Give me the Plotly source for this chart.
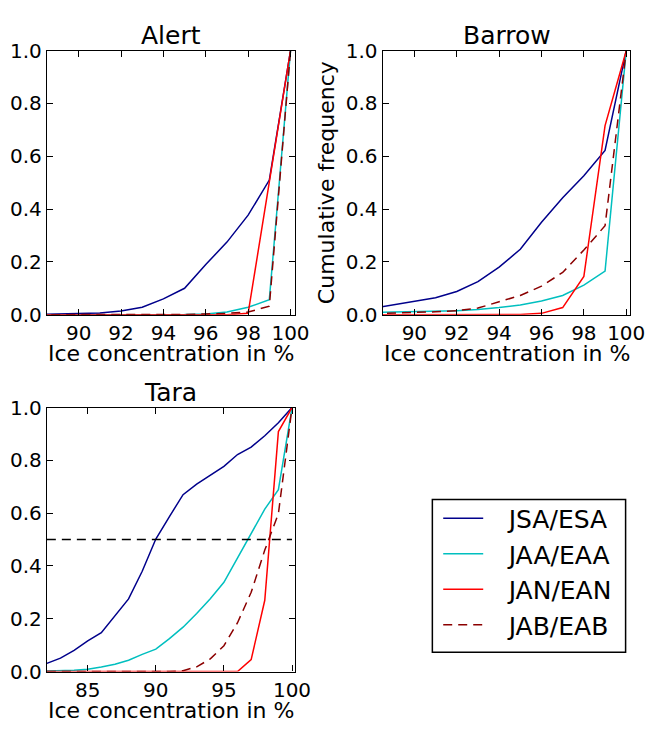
import plotly.graph_objects as go

# Ice concentration bins (%)
x_top = [88, 89, 90, 91, 92, 93, 94, 95, 96, 97, 98, 99, 100]
x_tara = [82, 83, 84, 85, 86, 87, 88, 89, 90, 91, 92, 93, 94, 95, 96, 97, 98, 99, 100]

# Alert cumulative frequencies
alert_jsa = [0.001, 0.002, 0.003, 0.006, 0.014, 0.028, 0.06, 0.10, 0.19, 0.275, 0.377, 0.51, 1.0]
alert_jaa = [0.0, 0.0, 0.0, 0.0, 0.0, 0.0, 0.0, 0.001, 0.003, 0.01, 0.028, 0.057, 1.0]
alert_jan = [0.0, 0.0, 0.0, 0.0, 0.0, 0.0, 0.0, 0.0, 0.0, 0.0, 0.005, 0.5, 1.0]
alert_jab = [0.0, 0.0, 0.0, 0.0, 0.0, 0.0, 0.0, 0.001, 0.003, 0.005, 0.01, 0.032, 1.0]

# Barrow cumulative frequencies
barrow_jsa = [0.024, 0.037, 0.050, 0.064, 0.088, 0.125, 0.18, 0.248, 0.35, 0.443, 0.526, 0.622, 1.0]
barrow_jaa = [0.009, 0.010, 0.011, 0.012, 0.015, 0.02, 0.027, 0.037, 0.052, 0.073, 0.112, 0.165, 1.0]
barrow_jan = [0.0, 0.0, 0.0, 0.0, 0.0, 0.0, 0.0, 0.001, 0.005, 0.027, 0.145, 0.716, 1.0]
barrow_jab = [0.004, 0.006, 0.008, 0.011, 0.015, 0.025, 0.049, 0.073, 0.108, 0.16, 0.245, 0.337, 1.0]

# Tara cumulative frequencies
tara_jsa = [0.031, 0.051, 0.08, 0.116, 0.147, 0.212, 0.275, 0.38, 0.502, 0.587, 0.67, 0.71,
            0.743, 0.777, 0.822, 0.85, 0.893, 0.942, 1.0]
tara_jaa = [0.002, 0.003, 0.005, 0.009, 0.017, 0.028, 0.043, 0.065, 0.085, 0.125, 0.168, 0.22,
            0.276, 0.338, 0.43, 0.525, 0.615, 0.689, 1.0]
tara_jan = [0.0, 0.0, 0.0, 0.0, 0.0, 0.0, 0.0, 0.0, 0.0, 0.0, 0.0, 0.0,
            0.0, 0.0, 0.0, 0.045, 0.27, 0.909, 1.0]
tara_jab = [0.0, 0.0, 0.0, 0.0, 0.0, 0.0, 0.0, 0.0, 0.0, 0.0, 0.003, 0.018,
            0.048, 0.098, 0.185, 0.30, 0.46, 0.598, 1.0]

median_level = 0.5

series_names = ["JSA/ESA", "JAA/EAA", "JAN/EAN", "JAB/EAB"]
colors = ["#00008B", "#00BFBF", "#FF0000", "#8B0000"]
dashes = ["solid", "solid", "solid", "9px,6px"]

FONT = "DejaVu Sans"
W, H = 666, 729
LEGEND_PAD = "\u2002\u00a0"  # gap between legend line sample and its label

panels = [
    ("x", "y", x_top, [alert_jsa, alert_jaa, alert_jan, alert_jab]),
    ("x2", "y2", x_top, [barrow_jsa, barrow_jaa, barrow_jan, barrow_jab]),
    ("x3", "y3", x_tara, [tara_jsa, tara_jaa, tara_jan, tara_jab]),
]

fig = go.Figure()
for p, (xa, ya, xs, ys_list) in enumerate(panels):
    for i, ys in enumerate(ys_list):
        fig.add_trace(go.Scatter(
            x=xs, y=ys, mode="lines", xaxis=xa, yaxis=ya,
            name=LEGEND_PAD + series_names[i], legendgroup=series_names[i],
            showlegend=(p == 0),
            line=dict(color=colors[i], width=1.5, dash=dashes[i]),
        ))

# horizontal reference at the median in the Tara panel
fig.add_trace(go.Scatter(
    x=[x_tara[0], x_tara[-1]], y=[median_level, median_level], mode="lines",
    xaxis="x3", yaxis="y3", showlegend=False,
    line=dict(color="black", width=1.5, dash="9px,6px"),
))


def px_dom(a, b):
    return [a / W, b / W]


def py_dom(top, bottom):
    return [1 - bottom / H, 1 - top / H]


axis_common = dict(
    showline=True, linecolor="black", linewidth=1.2, mirror="allticks",
    ticks="inside", ticklen=6, tickwidth=1, tickcolor="black",
    showgrid=False, zeroline=False,
    tickfont=dict(family=FONT, size=20, color="black"),
)

label_font = dict(family=FONT, size=22, color="black")

fig.update_layout(
    width=W, height=H,
    margin=dict(l=0, r=0, t=0, b=0),
    paper_bgcolor="white", plot_bgcolor="white",
    font=dict(family=FONT, color="black"),
    xaxis=dict(domain=px_dom(48, 302), range=[88.5, 100.2], dtick=2, tick0=0,
               anchor="y", **axis_common),
    yaxis=dict(domain=py_dom(40, 313), range=[0, 1], dtick=0.2, tickformat=".1f",
               anchor="x", **axis_common),
    xaxis2=dict(domain=px_dom(392, 646), range=[88.5, 100.2], dtick=2, tick0=0,
                anchor="y2", **axis_common),
    yaxis2=dict(domain=py_dom(40, 313), range=[0, 1], dtick=0.2, tickformat=".1f",
                anchor="x2", title=dict(text="Cumulative frequency", font=label_font, standoff=4),
                **axis_common),
    xaxis3=dict(domain=px_dom(48, 302), range=[82, 100.2], dtick=5, tick0=0,
                anchor="y3", **axis_common),
    yaxis3=dict(domain=py_dom(409, 682), range=[0, 1], dtick=0.2, tickformat=".1f",
                anchor="x3", **axis_common),
    legend=dict(
        x=449 / W, y=1 - 500 / H, xanchor="left", yanchor="top",
        borderwidth=0, bgcolor="rgba(0,0,0,0)",
        font=dict(family=FONT, size=25, color="black"),
        tracegroupgap=0, itemwidth=40,
    ),
    showlegend=True,
)

# legend frame
fig.add_shape(type="rect", xref="paper", yref="paper",
              x0=443 / W, x1=641 / W, y0=1 - 662 / H, y1=1 - 504 / H,
              line=dict(color="black", width=1.5), fillcolor="rgba(0,0,0,0)", layer="above")

# panel titles
titles = [("Alert", 175, 24), ("Barrow", 519, 24), ("Tara", 175, 393)]
for text, cx, cy in titles:
    fig.add_annotation(text=text, x=cx / W, y=1 - cy / H, xref="paper", yref="paper",
                       xanchor="center", yanchor="middle", showarrow=False,
                       font=dict(family=FONT, size=25, color="black"))

# x-axis labels
xlabels = [(175, 353.5), (519, 353.5), (175, 722.5)]
for cx, cy in xlabels:
    fig.add_annotation(text="Ice concentration in %", x=cx / W, y=1 - cy / H,
                       xref="paper", yref="paper", xanchor="center", yanchor="middle",
                       showarrow=False, font=label_font)

fig.write_html("out.html")
